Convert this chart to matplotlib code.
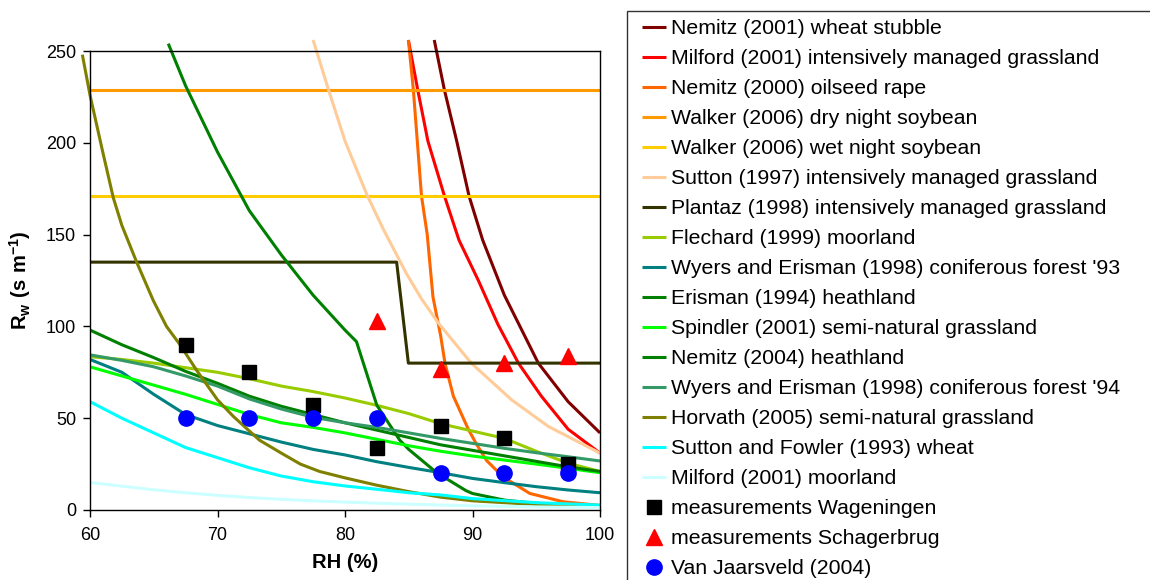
import matplotlib
matplotlib.use("Agg")
import matplotlib.pyplot as plt
from matplotlib.patches import Rectangle

plt.rcParams['font.family'] = ['Liberation Sans', 'DejaVu Sans']
plt.rcParams['mathtext.fontset'] = 'custom'
plt.rcParams['mathtext.rm'] = 'Liberation Sans'
plt.rcParams['mathtext.bf'] = 'Liberation Sans:bold'

# ---------------- data ----------------
nemitz01_rh = [87.0, 87.79, 88.76, 89.73, 90.8, 92.5, 95.16, 97.5, 100]
nemitz01_rw = [256, 229, 201, 171, 147, 117, 80, 59, 42]

milford_g_rh = [84.97, 85.7, 86.5, 87.8, 88.94, 90.46, 92.0, 93.6, 95.4, 97.5, 100]
milford_g_rw = [256, 229, 201, 171, 147, 125, 101, 80, 62, 44, 31]

nemitz00_rh = [84.97, 85.36, 86.0, 86.45, 86.9, 87.5, 87.84, 88.5, 89.67, 90.3, 91.1, 92.4, 94.5, 97.1, 100]
nemitz00_rw = [256, 229, 171, 150, 116, 95, 80, 62, 44, 36, 27, 18, 9, 4.5, 2.5]

walker_dry_rh = [60, 100]
walker_dry_rw = [229, 229]

walker_wet_rh = [60, 100]
walker_wet_rw = [171, 171]

sutton97_rh = [77.5, 78.7, 80, 81.7, 83, 84.8, 86, 87.3, 89.9, 93.07, 95.95, 100]
sutton97_rw = [256, 229, 201, 172, 153, 129, 115, 102, 80, 60, 45.5, 31]

plantaz_rh = [60, 84.05, 84.97, 100]
plantaz_rw = [135, 135, 80, 80]

rh_grid = [60, 62.5, 65, 67.5, 70, 72.5, 75, 77.5, 80, 82.5, 85, 87.5, 90, 92.5, 95, 97.5, 100]
flechard_rw = [83.5, 82, 80, 77.5, 75, 71.5, 67.5, 64.5, 61, 57, 52.5, 47, 43, 39, 32, 25.5, 21]
wyers93_rw = [82, 75, 63, 52, 46, 41.5, 37, 33, 30, 26.3, 23.2, 20.3, 17.2, 14.9, 12.7, 10.9, 9.4]

erisman_rh = [66.14, 67.5, 70, 72.5, 75, 77.5, 80, 80.9, 82.5, 84.3, 85, 86.9, 87.5, 89.5, 90, 92.5, 95, 97.5, 100]
erisman_rw = [254, 231, 195, 163, 139, 117, 98, 91.7, 57, 38, 33, 22, 19, 10.5, 9, 5.4, 3.6, 2.5, 1.8]

spindler_rw = [78, 73, 68, 63, 57.5, 52, 47.5, 45, 42, 38.5, 35, 32, 29.4, 27.2, 25, 22.7, 20.3]
nemitz04_rw = [98, 90, 83, 75.5, 69, 62, 56.5, 52, 47.5, 43.5, 39.5, 35.5, 32.5, 29.5, 26.5, 23.5, 21]
wyers94_rw = [84.5, 81.5, 78, 73, 67.5, 60.5, 55, 50.5, 47.5, 45, 42, 39, 36.3, 33.6, 31.2, 29, 26.7]

horvath_rh = [59.4, 60, 61, 61.83, 62.5, 63.66, 64.97, 66.0, 67.06, 68.37, 70, 71.24, 72.5, 73.3, 75, 76.5, 78, 80, 82.5, 85, 87.5, 90, 95, 100]
horvath_rw = [248, 226, 195, 170, 155, 135, 114, 100, 90, 76, 60, 51, 43, 38, 31, 25, 21, 17.5, 13.5, 10, 7, 5, 3, 2]

sutton_fowler_rw = [59, 50, 42, 34, 28.5, 23, 18.5, 15.4, 13.1, 11.3, 9.4, 8.2, 6.2, 5.1, 4, 3.3, 2.7]
milford_m_rw = [15, 13, 11, 9.4, 8, 6.8, 5.8, 5, 4.3, 3.7, 3.2, 2.7, 2.3, 2, 1.7, 1.5, 1.3]

meas_rh = [67.5, 72.5, 77.5, 82.5, 87.5, 92.5, 97.5]
wageningen_rw = [90, 75, 57, 34, 46, 39, 25]
schager_rh = [82.5, 87.5, 92.5, 97.5]
schager_rw = [103, 77, 80, 84]
jaarsveld_rw = [50, 50, 50, 50, 20, 20, 20]

series = [
    ("Nemitz (2001) wheat stubble", nemitz01_rh, nemitz01_rw, "#800000", False),
    ("Milford (2001) intensively managed grassland", milford_g_rh, milford_g_rw, "#FF0000", False),
    ("Nemitz (2000) oilseed rape", nemitz00_rh, nemitz00_rw, "#FF6600", False),
    ("Walker (2006) dry night soybean", walker_dry_rh, walker_dry_rw, "#FF9900", True),
    ("Walker (2006) wet night soybean", walker_wet_rh, walker_wet_rw, "#FFCC00", True),
    ("Sutton (1997) intensively managed grassland", sutton97_rh, sutton97_rw, "#FFCC99", False),
    ("Plantaz (1998) intensively managed grassland", plantaz_rh, plantaz_rw, "#333300", True),
    ("Flechard (1999) moorland", rh_grid, flechard_rw, "#99CC00", True),
    ("Wyers and Erisman (1998) coniferous forest '93", rh_grid, wyers93_rw, "#008080", True),
    ("Erisman (1994) heathland", erisman_rh, erisman_rw, "#008000", False),
    ("Spindler (2001) semi-natural grassland", rh_grid, spindler_rw, "#00FF00", True),
    ("Nemitz (2004) heathland", rh_grid, nemitz04_rw, "#008000", True),
    ("Wyers and Erisman (1998) coniferous forest '94", rh_grid, wyers94_rw, "#339966", True),
    ("Horvath (2005) semi-natural grassland", horvath_rh, horvath_rw, "#808000", False),
    ("Sutton and Fowler (1993) wheat", rh_grid, sutton_fowler_rw, "#00FFFF", True),
    ("Milford (2001) moorland", rh_grid, milford_m_rw, "#CCFFFF", True),
]

# ---------------- figure ----------------
W, H = 1150, 580
fig = plt.figure(figsize=(W / 100, H / 100), dpi=100)
ax = fig.add_axes([90 / W, 1 - 510 / H, 510 / W, 459 / H])

for label, x, y, c, clip in series:
    ax.plot(x, y, color=c, lw=2.2, label=label, clip_on=clip,
            solid_joinstyle='round', solid_capstyle='butt', zorder=2)

ax.plot(meas_rh, wageningen_rw, ls='none', marker='s', ms=9.4, color='black',
        label='measurements Wageningen', zorder=4)
ax.plot(schager_rh, schager_rw, ls='none', marker='^', ms=12, color='#FF0000',
        label='measurements Schagerbrug', zorder=4)
ax.plot(meas_rh, jaarsveld_rw, ls='none', marker='o', ms=11, color='#0000FF',
        label='Van Jaarsveld (2004)', zorder=4)

ax.set_xlim(60, 100)
ax.set_ylim(0, 250)
ax.set_xticks([60, 70, 80, 90, 100])
ax.set_yticks([0, 50, 100, 150, 200, 250])
ax.tick_params(axis='both', direction='out', length=5, width=1, labelsize=13)
ax.tick_params(axis='x', pad=7.5)
ax.tick_params(axis='y', pad=5)
for s in ax.spines.values():
    s.set_linewidth(1)
    s.set_color('black')

ax.set_xlabel('RH (%)', fontsize=14.5, fontweight='bold')
ax.xaxis.set_label_coords(0.5, -0.094)
ax.set_ylabel(r'$\mathbf{R_w\ (s\ m^{-1})}$', fontsize=14.5)
ax.yaxis.set_label_coords(-0.112, 0.5)

leg = fig.legend(*ax.get_legend_handles_labels(), loc='upper left',
                 bbox_to_anchor=(642 / W, 1 - 19.3 / H), frameon=False, fontsize=15.3,
                 handlelength=1.13, handletextpad=0.24, labelspacing=0.518,
                 borderpad=0, borderaxespad=0, numpoints=1)

fig.add_artist(Rectangle((627 / W, -0.2), (1300 - 627) / W, 0.2 + 1 - 10.7 / H,
                         transform=fig.transFigure, fill=False, lw=1, edgecolor='#333333'))

fig.savefig('out.png', dpi=100)
